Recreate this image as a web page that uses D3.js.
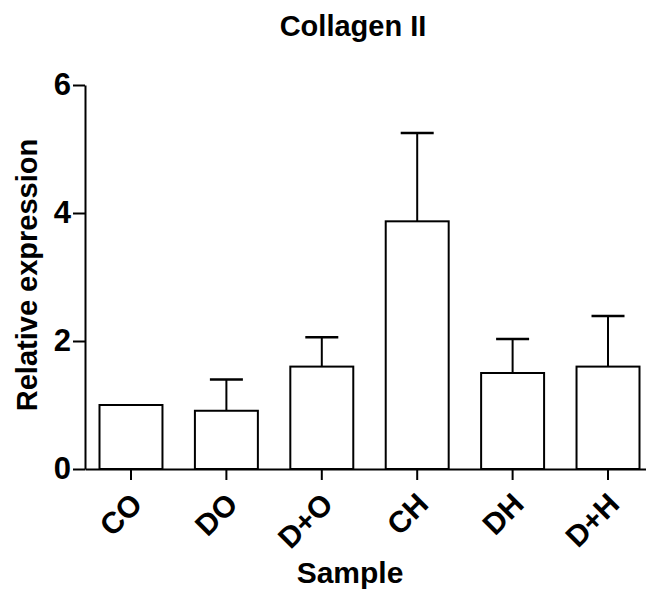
<!DOCTYPE html>
<html>
<head>
<meta charset="utf-8">
<script src="https://cdn.jsdelivr.net/npm/d3@7"></script>
<style>
  body { margin: 0; background: #fff; }
  svg text { font-family: "Liberation Sans", Arial, sans-serif; font-weight: bold; fill: #000; }
</style>
</head>
<body>
<div id="chart"></div>
<script>
// data
const samples = ['CO', 'DO', 'D+O', 'CH', 'DH', 'D+H'];
const means = [1.0, 0.91, 1.60, 3.87, 1.50, 1.60];
const errors = [0, 0.49, 0.46, 1.38, 0.53, 0.79];
const yTicks = [0, 2, 4, 6];

const data = samples.map((s, i) => ({ name: s, mean: means[i], err: errors[i] }));

const width = 646, height = 590;

const svg = d3.select('#chart').append('svg')
  .attr('width', width)
  .attr('height', height);

// scales
const x = d3.scaleBand()
  .domain(samples)
  .range([85, 654])
  .paddingInner(0.34)
  .paddingOuter(0.152);

const y = d3.scaleLinear()
  .domain([0, 6])
  .range([469, 85]);

// bars
svg.selectAll('.bar')
  .data(data)
  .enter().append('rect')
  .attr('class', 'bar')
  .attr('x', d => x(d.name))
  .attr('y', d => y(d.mean))
  .attr('width', x.bandwidth())
  .attr('height', d => y(0) - y(d.mean))
  .style('fill', '#fff')
  .style('stroke', '#000')
  .style('stroke-width', 2);

// error bars (upper only)
const errData = data.filter(d => d.err > 0);
svg.selectAll('.err')
  .data(errData)
  .enter().append('line')
  .attr('class', 'err')
  .attr('x1', d => x(d.name) + x.bandwidth() / 2)
  .attr('x2', d => x(d.name) + x.bandwidth() / 2)
  .attr('y1', d => y(d.mean))
  .attr('y2', d => y(d.mean + d.err))
  .style('stroke', '#000')
  .style('stroke-width', 2);

svg.selectAll('.cap')
  .data(errData)
  .enter().append('line')
  .attr('class', 'cap')
  .attr('x1', d => x(d.name) + x.bandwidth() / 2 - 16.5)
  .attr('x2', d => x(d.name) + x.bandwidth() / 2 + 16.5)
  .attr('y1', d => y(d.mean + d.err))
  .attr('y2', d => y(d.mean + d.err))
  .style('stroke', '#000')
  .style('stroke-width', 2.5);

// axes
const xAxis = svg.append('g')
  .attr('transform', `translate(0,${y(0)})`)
  .call(d3.axisBottom(x).tickSize(11).tickSizeOuter(0));

xAxis.select('.domain').style('stroke-width', 2);
xAxis.selectAll('.tick line').style('stroke-width', 2);
xAxis.selectAll('.tick text')
  .style('font-size', '30px')
  .style('font-family', '"Liberation Sans", Arial, sans-serif')
  .style('font-weight', 'bold')
  .attr('text-anchor', 'end')
  .attr('y', 0)
  .attr('dy', null)
  .attr('transform', 'translate(13,37) rotate(-45)');

const yAxis = svg.append('g')
  .attr('transform', `translate(${x.range()[0]},0)`)
  .call(d3.axisLeft(y).tickValues(yTicks).tickFormat(d3.format('d'))
    .tickSize(12).tickSizeOuter(0).tickPadding(2));

yAxis.select('.domain').style('stroke-width', 2);
yAxis.selectAll('.tick line').style('stroke-width', 2);
yAxis.selectAll('.tick text')
  .style('font-size', '31px')
  .style('font-family', '"Liberation Sans", Arial, sans-serif')
  .style('font-weight', 'bold');

// labels
svg.append('text')
  .attr('x', 353)
  .attr('y', 36)
  .style('text-anchor', 'middle')
  .style('font-size', '29px')
  .text('Collagen II');

svg.append('text')
  .attr('x', 350)
  .attr('y', 583)
  .style('text-anchor', 'middle')
  .style('font-size', '30px')
  .text('Sample');

svg.append('text')
  .attr('transform', 'translate(37,275) rotate(-90)')
  .style('text-anchor', 'middle')
  .style('font-size', '29px')
  .text('Relative expression');
</script>
</body>
</html>
